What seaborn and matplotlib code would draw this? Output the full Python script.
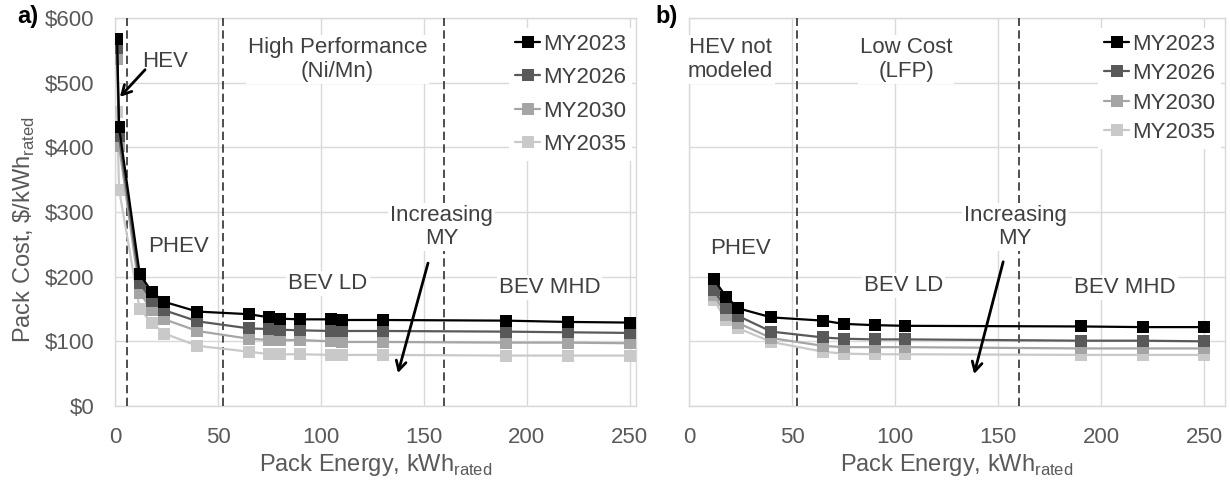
import matplotlib
matplotlib.use("Agg")
import matplotlib.pyplot as plt
import pandas as pd
import seaborn as sns

# ---------------- data ----------------
model_years = ["MY2023", "MY2026", "MY2030", "MY2035"]
series_colors = ["#000000", "#595959", "#a5a5a5", "#c9c9c9"]

# a) High Performance (Ni/Mn) chemistry
energy_nimn = [1, 2, 12, 18, 24, 40, 65, 75, 80, 90, 105, 110, 130, 190, 220, 250]
cost_nimn_2023 = [568, 431, 204, 176, 161, 146, 142, 137, 135, 134, 134, 133, 133, 132, 130, 129]
cost_nimn_2026 = [553, 417, 190, 163, 148, 131, 120, 119, 118, 117, 116, 116, 116, 115, 114, 113]
cost_nimn_2030 = [537, 402, 175, 148, 134, 116, 104, 102, 102, 102, 100, 99, 99, 98, 98, 97]
cost_nimn_2035 = [455, 334, 150, 128, 112, 93, 84, 80, 80, 80, 79, 79, 79, 78, 78, 78]

# b) Low Cost (LFP) chemistry
energy_lfp = [12, 18, 24, 40, 65, 75, 90, 105, 190, 220, 250]
cost_lfp_2023 = [196, 169, 151, 137, 132, 127, 125, 124, 123, 122, 122]
cost_lfp_2026 = [179, 151, 139, 115, 106, 104, 103, 103, 101, 101, 100]
cost_lfp_2030 = [172, 141, 128, 105, 93, 91, 91, 91, 89, 89, 89]
cost_lfp_2035 = [164, 133, 120, 99, 84, 81, 80, 80, 79, 79, 79]

y_ticks = [0, 100, 200, 300, 400, 500, 600]
x_ticks = [0, 50, 100, 150, 200, 250]

# ---------------- style ----------------
sns.set_theme(style="white")
plt.rcParams["font.family"] = ["Liberation Sans", "DejaVu Sans"]
plt.rcParams["mathtext.fontset"] = "custom"
plt.rcParams["mathtext.rm"] = "Liberation Sans"

TICK_C = "#595959"
TEXT_C = "#404040"
GRID_C = "#d9d9d9"
FS = 16

W, H = 1230, 482
fig = plt.figure(figsize=(W / 100, H / 100), dpi=100)


def px_axes(left, right, top, bottom):
    return [left / W, 1 - bottom / H, (right - left) / W, (bottom - top) / H]


ax_a = fig.add_axes(px_axes(115, 636, 18, 406))
ax_b = fig.add_axes(px_axes(689, 1225, 18, 406))


def long_frame(energy, costs):
    rows = []
    for my, vals in zip(model_years, costs):
        for e, c in zip(energy, vals):
            rows.append({"MY": my, "energy": e, "cost": c})
    return pd.DataFrame(rows)


def draw_panel(ax, energy, costs, xmax, dashed_at, legend_spacing):
    df = long_frame(energy, costs)
    # older model years drawn last so they sit on top
    for i in reversed(range(len(model_years))):
        sub = df[df["MY"] == model_years[i]]
        sns.lineplot(data=sub, x="energy", y="cost", ax=ax, color=series_colors[i],
                     marker="s", markersize=8.5, markeredgewidth=0, linewidth=1.6,
                     sort=False, estimator=None, label=model_years[i], zorder=4)

    ax.set_xlim(0, xmax)
    ax.set_ylim(0, 600)
    ax.set_xticks(x_ticks)
    ax.set_yticks(y_ticks)
    ax.grid(True, color=GRID_C, linewidth=1.0, zorder=0)
    ax.set_axisbelow(True)
    for s in ax.spines.values():
        s.set_color(GRID_C)
        s.set_linewidth(1.0)
    ax.tick_params(length=0, labelsize=FS, labelcolor=TICK_C, pad=15)

    for xv in dashed_at:
        ax.axvline(xv, color="#303030", linewidth=1.2, dashes=(5, 2.6), zorder=3)

    handles, labels = ax.get_legend_handles_labels()
    order = [labels.index(m) for m in model_years]
    leg = ax.legend([handles[k] for k in order], [labels[k] for k in order],
                    loc="upper right", bbox_to_anchor=(1.0, 0.985), fontsize=FS,
                    frameon=True, framealpha=1.0, facecolor="white", edgecolor="none",
                    handlelength=1.15, handletextpad=0.12, labelspacing=legend_spacing,
                    borderpad=0.25, borderaxespad=0.2, fancybox=False)
    for t in leg.get_texts():
        t.set_color(TEXT_C)
    leg.set_zorder(6)

    ax.set_xlabel(r"Pack Energy, kWh$_{\mathregular{rated}}$", fontsize=FS + 1, color=TICK_C)
    ax.xaxis.set_label_coords(0.5, -0.118)


def label(ax, x, y, s, **kw):
    ax.text(x, y, s, fontsize=FS, color=TEXT_C, ha="center", va="center",
            multialignment="center", linespacing=1.15, zorder=5,
            bbox=dict(facecolor="white", edgecolor="none", pad=1.5), **kw)


def arrow(ax, start, end):
    ax.annotate("", xy=end, xytext=start, zorder=7,
                arrowprops=dict(arrowstyle="->,head_length=0.55,head_width=0.3",
                                color="black", lw=2.0, shrinkA=0, shrinkB=0))


# ---- panel a ----
draw_panel(ax_a, energy_nimn,
           [cost_nimn_2023, cost_nimn_2026, cost_nimn_2030, cost_nimn_2035],
           253, [6, 52.5, 160], 0.56)
ax_a.yaxis.set_major_formatter(matplotlib.ticker.FuncFormatter(lambda v, p: r"\$%d" % v))
ax_a.set_ylabel(r"Pack Cost, \$/kWh$_{\mathregular{rated}}$", fontsize=FS + 1, color=TICK_C)
ax_a.yaxis.set_label_coords(-0.150, 0.454)

label(ax_a, 24.3, 532, "HEV")
arrow(ax_a, (14.6, 520), (2.4, 478))
label(ax_a, 108, 536, "High Performance\n(Ni/Mn)")
label(ax_a, 31, 246, "PHEV")
label(ax_a, 103.4, 190, "BEV LD")
label(ax_a, 211, 184, "BEV MHD")
label(ax_a, 158.5, 277, "Increasing\nMY")
arrow(ax_a, (152, 221), (137.4, 51))

# ---- panel b ----
draw_panel(ax_b, energy_lfp,
           [cost_lfp_2023, cost_lfp_2026, cost_lfp_2030, cost_lfp_2035],
           260, [52.5, 160], 0.38)
ax_b.set_yticklabels([])
ax_b.set_ylabel("")

label(ax_b, 20, 536, "HEV not\nmodeled")
label(ax_b, 105.3, 536, "Low Cost\n(LFP)")
label(ax_b, 25, 244, "PHEV")
label(ax_b, 104, 187, "BEV LD")
label(ax_b, 211.6, 184, "BEV MHD")
label(ax_b, 158.3, 277, "Increasing\nMY")
arrow(ax_b, (152.4, 223), (138.3, 49.5))

fig.text(17 / W, 1 - 16 / H, "a)", fontsize=FS + 1, fontweight="bold", color="black",
         ha="left", va="center")
fig.text(655 / W, 1 - 16 / H, "b)", fontsize=FS + 1, fontweight="bold", color="black",
         ha="left", va="center")

fig.savefig("out.png", dpi=100, facecolor="white")
